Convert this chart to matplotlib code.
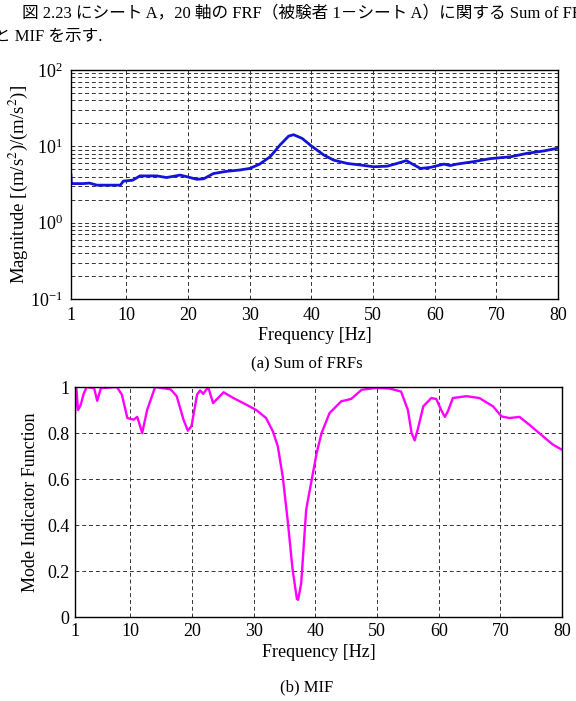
import numpy as np
import matplotlib
matplotlib.use('Agg')
import matplotlib.pyplot as plt
from matplotlib.ticker import LogLocator, NullFormatter

plt.rcParams['font.family'] = ['Liberation Serif', 'Noto Sans CJK JP']
plt.rcParams['mathtext.fontset'] = 'stix'

# (a) Sum of FRFs
frf_freq = [1.0, 1.05, 1.2, 3.0, 4.0, 5.2, 7.0, 9.0, 9.5, 11.0, 12.2, 14.9, 16.5, 18.7, 19.8,
            21.4, 22.5, 24.1, 26.2, 28.4, 30.0, 31.6, 33.3, 34.9, 36.3, 37.1, 38.5,
            40.0, 42.0, 43.6, 45.8, 47.9, 50.1, 52.3, 53.9, 55.4, 56.4, 57.7, 59.3,
            61.5, 62.5, 63.6, 66.3, 69.0, 72.3, 75.0, 77.7, 79.8, 80.0]
frf_mag = [4.2, 3.3, 3.25, 3.25, 3.3, 3.1, 3.1, 3.1, 3.5, 3.6, 4.1, 4.1, 3.9, 4.2, 4.0,
           3.7, 3.75, 4.4, 4.7, 4.9, 5.13, 5.85, 7.3, 10.4, 13.6, 14.2, 12.7,
           10.1, 7.7, 6.6, 5.97, 5.7, 5.4, 5.5, 5.97, 6.5, 5.85, 5.13, 5.3,
           5.85, 5.6, 5.85, 6.3, 6.9, 7.3, 8.1, 8.7, 9.4, 9.5]

# (b) MIF
mif_freq = [1.0, 1.2, 1.5, 1.9, 2.4, 2.9, 4.1, 4.6, 5.2, 7.8, 8.6, 9.5, 10.5, 11.1,
            11.9, 12.7, 14.0, 16.5, 17.5, 18.6, 19.3, 19.9, 20.8, 21.3, 21.8, 22.6,
            23.4, 25.1, 26.7, 28.8, 30.4, 32.0, 33.1, 33.9, 34.7, 35.5, 36.3, 37.0,
            37.2, 37.7, 38.5, 39.4, 40.2, 41.0, 42.3, 44.2, 45.8, 47.5, 49.9, 52.1,
            53.9, 55.0, 55.6, 56.1, 56.6, 57.5, 58.8, 59.6, 60.4, 61.0, 61.5, 62.3,
            64.5, 66.6, 68.8, 70.2, 71.5, 73.1, 74.7, 76.9, 78.5, 80.0]
mif_val = [0.887, 1.0, 0.9, 0.92, 0.97, 1.0, 0.995, 0.94, 0.995, 1.0, 0.967, 0.865, 0.858, 0.87,
           0.8, 0.9, 1.0, 0.99, 0.96, 0.858, 0.81, 0.83, 0.967, 0.985, 0.97, 1.0,
           0.93, 0.977, 0.952, 0.923, 0.9, 0.865, 0.807, 0.742, 0.61, 0.42, 0.206, 0.078,
           0.075, 0.148, 0.467, 0.597, 0.713, 0.8, 0.887, 0.938, 0.948, 0.988, 0.996, 0.993,
           0.98, 0.9, 0.8, 0.768, 0.815, 0.916, 0.952, 0.948, 0.9, 0.87, 0.895, 0.952,
           0.96, 0.952, 0.916, 0.872, 0.865, 0.87, 0.836, 0.786, 0.75, 0.727]

x_ticks = [1, 10, 20, 30, 40, 50, 60, 70, 80]

fig = plt.figure(figsize=(5.76, 7.01), dpi=100)

fig.text(22 / 576, 1 - 17 / 701, '図 2.23 にシート A，20 軸の FRF（被験者 1－シート A）に関する Sum of FRFs',
         fontsize=12, va='baseline', ha='left')
fig.text(-6 / 576, 1 - 41 / 701, 'と MIF を示す.', fontsize=12, va='baseline', ha='left')

grid_kw = dict(color='#333333', linestyle=(0, (4, 3)), linewidth=0.7)

ax1 = fig.add_axes([71 / 576, 1 - 299 / 701, 487 / 576, 229 / 701])
ax1.semilogy(frf_freq, frf_mag, color='#1414d8', linewidth=2)
ax1.set_xlim(1, 80)
ax1.set_ylim(0.1, 100)
ax1.set_xticks(x_ticks)
ax1.yaxis.set_major_locator(LogLocator(base=10, numticks=10))
ax1.yaxis.set_minor_locator(LogLocator(base=10, subs=np.arange(2, 10), numticks=20))
ax1.yaxis.set_minor_formatter(NullFormatter())
ax1.grid(True, which='both', **grid_kw)
ax1.tick_params(which='both', direction='in', length=0, labelsize=13, pad=6)
ax1.set_xlabel('Frequency [Hz]', fontsize=13, labelpad=2)
ax1.set_ylabel('Magnitude [(m/s$^2$)/(m/s$^2$)]', fontsize=13.5, labelpad=0)
fig.text(307 / 576, 1 - 368 / 701, '(a) Sum of FRFs', fontsize=12, ha='center', va='baseline')

ax2 = fig.add_axes([75 / 576, 1 - 617 / 701, 487 / 576, 230 / 701])
ax2.plot(mif_freq, mif_val, color='#ff00ff', linewidth=1.7)
ax2.set_xlim(1, 80)
ax2.set_ylim(0, 1)
ax2.set_xticks(x_ticks)
ax2.set_yticks([0, 0.2, 0.4, 0.6, 0.8, 1])
ax2.set_yticklabels(['0', '0.2', '0.4', '0.6', '0.8', '1'])
ax2.grid(True, **grid_kw)
ax2.tick_params(direction='in', length=0, labelsize=13, pad=4)
ax2.set_xlabel('Frequency [Hz]', fontsize=13, labelpad=3)
ax2.set_ylabel('Mode Indicator Function', fontsize=13, labelpad=6)
fig.text(307 / 576, 1 - 691 / 701, '(b) MIF', fontsize=12, ha='center', va='baseline')

for ax in (ax1, ax2):
    for s in ax.spines.values():
        s.set_linewidth(1.0)

fig.savefig('out.png', dpi=100)
